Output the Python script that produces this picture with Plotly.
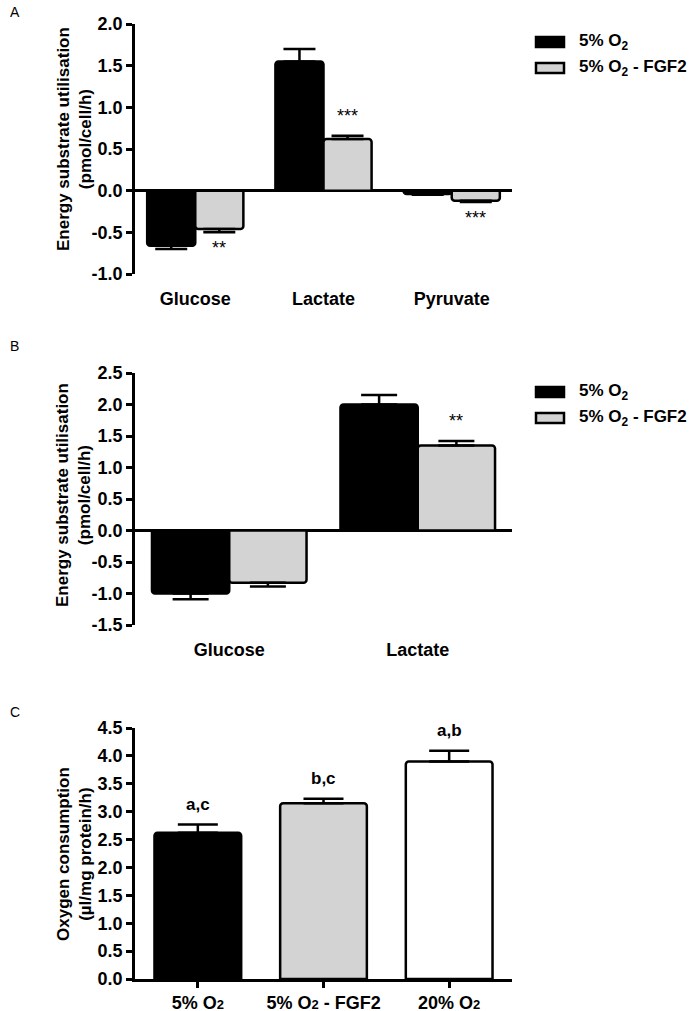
import plotly.graph_objects as go

# ---------------- data ----------------
cats_a = ["Glucose", "Lactate", "Pyruvate"]
a_o2 = [-0.66, 1.55, -0.04]
a_o2_err = [0.04, 0.15, 0.01]
a_fgf2 = [-0.46, 0.62, -0.12]
a_fgf2_err = [0.04, 0.04, 0.015]
a_sig = ["**", "***", "***"]
ticks_a = [-1.0, -0.5, 0.0, 0.5, 1.0, 1.5, 2.0]

cats_b = ["Glucose", "Lactate"]
b_o2 = [-1.00, 2.00]
b_o2_err = [0.09, 0.15]
b_fgf2 = [-0.83, 1.35]
b_fgf2_err = [0.06, 0.07]
b_sig = ["", "**"]
ticks_b = [-1.5, -1.0, -0.5, 0.0, 0.5, 1.0, 1.5, 2.0, 2.5]

cats_c = ["5% O<span style='font-size:13px'>2</span>",
          "5% O<span style='font-size:13px'>2</span> - FGF2",
          "20% O<span style='font-size:13px'>2</span>"]
c_vals = [2.62, 3.15, 3.90]
c_err = [0.15, 0.08, 0.19]
c_colors = ["black", "#d3d3d3", "white"]
c_sig = ["a,c", "b,c", "a,b"]
ticks_c = [0.0, 0.5, 1.0, 1.5, 2.0, 2.5, 3.0, 3.5, 4.0, 4.5]

series_names = ["5% O<sub>2</sub>", "5% O<sub>2</sub> - FGF2"]
series_colors = ["black", "#d3d3d3"]

title_ab = "Energy substrate utilisation<br>(pmol/cell/h)"
title_c = "Oxygen consumption<br>(µl/mg protein/h)"

FONT = "Arial, 'Liberation Sans', sans-serif"
W, H = 693, 1011


def pxx(x):
    return x / W


def pxy(y):
    return 1 - y / H


def up(vals, errs):
    return [e if v >= 0 else 0 for v, e in zip(vals, errs)]


def down(vals, errs):
    return [e if v < 0 else 0 for v, e in zip(vals, errs)]


def tick_text(vals):
    return [f"{v:.1f}" for v in vals]


GAP_A, GAP_B, GAP_C = 0.25, 0.18, 0.31

fig = go.Figure()

# panel A
for k, (vals, errs) in enumerate([(a_o2, a_o2_err), (a_fgf2, a_fgf2_err)]):
    bw = (1 - GAP_A) / 2
    fig.add_trace(go.Bar(
        x=cats_a, y=vals, name=series_names[k], xaxis="x", yaxis="y", showlegend=False,
        width=bw, offset=-bw + k * bw,
        marker=dict(color=series_colors[k], line=dict(color="black", width=2.5), cornerradius=3),
        error_y=dict(type="data", symmetric=False, array=up(vals, errs),
                     arrayminus=down(vals, errs), color="black", thickness=2.5, width=16),
    ))

# panel B
for k, (vals, errs) in enumerate([(b_o2, b_o2_err), (b_fgf2, b_fgf2_err)]):
    bw = (1 - GAP_B) / 2
    fig.add_trace(go.Bar(
        x=cats_b, y=vals, name=series_names[k], xaxis="x2", yaxis="y2", showlegend=False,
        width=bw, offset=-bw + k * bw,
        marker=dict(color=series_colors[k], line=dict(color="black", width=2.5), cornerradius=3),
        error_y=dict(type="data", symmetric=False, array=up(vals, errs),
                     arrayminus=down(vals, errs), color="black", thickness=2.5, width=18),
    ))

# panel C
fig.add_trace(go.Bar(
    x=cats_c, y=c_vals, xaxis="x3", yaxis="y3", showlegend=False, width=1 - GAP_C,
    marker=dict(color=c_colors, line=dict(color="black", width=2.5), cornerradius=3),
    error_y=dict(type="data", symmetric=False, array=c_err, arrayminus=[0] * 3,
                 color="black", thickness=2.5, width=20),
))

annotations = []
sfont = dict(size=18, color="black", family=FONT)
for (vals, errs, sig, gap, xr, yr) in [(a_fgf2, a_fgf2_err, a_sig, GAP_A, "x", "y"),
                                       (b_fgf2, b_fgf2_err, b_sig, GAP_B, "x2", "y2")]:
    for i, (v, e, s) in enumerate(zip(vals, errs, sig)):
        if not s:
            continue
        pos = v >= 0
        annotations.append(dict(x=i + (1 - gap) / 4, y=v + (e if pos else -e), xref=xr, yref=yr,
                                text=s, showarrow=False, font=sfont,
                                yanchor="bottom" if pos else "top", yshift=8 if pos else -4))
for i, (v, e, s) in enumerate(zip(c_vals, c_err, c_sig)):
    annotations.append(dict(x=i, y=v + e, xref="x3", yref="y3", text="<b>" + s + "</b>",
                            showarrow=False, font=dict(size=17, color="black", family=FONT),
                            yanchor="bottom", yshift=9))

# y-axis titles
for txt, yc in [(title_ab, 139), (title_ab, 495), (title_c, 854)]:
    annotations.append(dict(x=pxx(74), y=pxy(yc), xref="paper", yref="paper", text="<b>" + txt + "</b>",
                            textangle=-90, showarrow=False, xanchor="center", yanchor="middle",
                            font=dict(size=17, color="black", family=FONT)))

# panel letters
for lab, y in [("A", 12), ("B", 346), ("C", 712)]:
    annotations.append(dict(x=pxx(8), y=pxy(y), xref="paper", yref="paper", text=lab,
                            showarrow=False, xanchor="left", yanchor="middle",
                            font=dict(size=14, color="black", family=FONT)))

# legends for A and B
shapes = []
for ytop in [42, 392]:
    for k in range(2):
        yc = ytop + k * 26
        shapes.append(dict(type="rect", xref="paper", yref="paper",
                           x0=pxx(536), x1=pxx(564), y0=pxy(yc - 5), y1=pxy(yc + 5),
                           fillcolor=series_colors[k], line=dict(color="black", width=2.5)))
        annotations.append(dict(x=pxx(577), y=pxy(yc), xref="paper", yref="paper",
                                text="<b>" + series_names[k] + "</b>", showarrow=False,
                                xanchor="left", yanchor="middle",
                                font=dict(size=17, color="black", family=FONT)))

dom_x = [pxx(135), pxx(512)]
tfont = dict(size=18, color="black", family=FONT, weight="bold")
yax_common = dict(showline=True, linecolor="black", linewidth=2.5, ticks="outside",
                  ticklen=6, tickwidth=2.5, tickcolor="black", showgrid=False,
                  tickfont=tfont, automargin=False,
                  zeroline=True, zerolinecolor="black", zerolinewidth=2.5)
xax_cat = dict(showline=False, ticks="", showgrid=False, zeroline=False, automargin=False,
               tickfont=tfont, ticklabelstandoff=12)

fig.update_layout(
    width=W, height=H, margin=dict(l=0, r=0, t=0, b=0),
    paper_bgcolor="white", plot_bgcolor="white", showlegend=False,
    font=dict(family=FONT, color="black"),
    xaxis=dict(domain=dom_x, anchor="y", range=[-0.47, 2.47], **xax_cat),
    yaxis=dict(domain=[pxy(274), pxy(24)], anchor="x", range=[-1.0, 2.0],
               tickvals=ticks_a, ticktext=tick_text(ticks_a), **yax_common),
    xaxis2=dict(domain=dom_x, anchor="y2", range=[-0.5, 1.5], **xax_cat),
    yaxis2=dict(domain=[pxy(625), pxy(373)], anchor="x2", range=[-1.5, 2.5],
                tickvals=ticks_b, ticktext=tick_text(ticks_b), **yax_common),
    xaxis3=dict(domain=dom_x, anchor="y3", range=[-0.5, 2.5], showline=True, automargin=False,
                linecolor="black", linewidth=2.5, ticks="outside", ticklen=6, tickwidth=2.5,
                tickcolor="black", showgrid=False, zeroline=False, tickfont=tfont),
    yaxis3=dict(domain=[pxy(979), pxy(728)], anchor="x3", range=[0, 4.5],
                tickvals=ticks_c, ticktext=tick_text(ticks_c),
                **{**yax_common, "zeroline": False}),
    annotations=annotations, shapes=shapes,
)

fig.write_html("out.html", config={"displayModeBar": False},
               post_script="document.body.style.margin='0';document.body.style.overflow='hidden';")
